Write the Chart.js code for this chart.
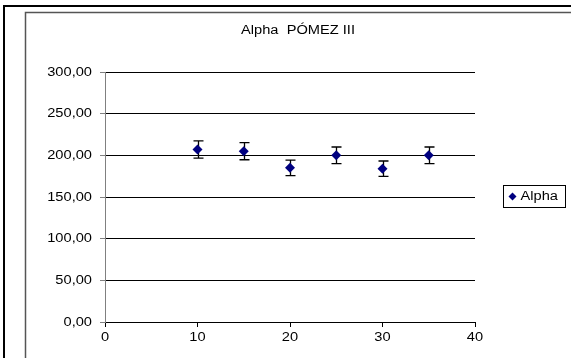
<!DOCTYPE html>
<html>
<head>
<meta charset="utf-8">
<script src="https://cdn.jsdelivr.net/npm/chart.js@4/dist/chart.umd.min.js"></script>
<style>
  html, body { margin: 0; padding: 0; background: #fff; }
  #wrap { width: 571px; height: 358px; }
</style>
</head>
<body>
<div id="wrap"><canvas id="c" width="571" height="358"></canvas></div>
<script>
// Alpha measurements with their error margins
const xValues = [10, 15, 20, 25, 30, 35];
const alphaValues = [207, 205, 185, 200, 184, 200];
const alphaErrors = [10.4, 10.3, 9.3, 10, 9.2, 10];
const yTicks = [0, 50, 100, 150, 200, 250, 300];
const xTicks = [0, 10, 20, 30, 40];
const chartTitle = 'Alpha  PÓMEZ III';
const seriesName = 'Alpha';

const FONT = '12px "Liberation Sans", Arial, sans-serif';
const STRETCH = 1.22;   // the sheet's text is drawn slightly widened
const fmt = v => v.toFixed(2).replace('.', ',');

// Draw widened text; align is 'left', 'center' or 'right'
function wideText(ctx, text, x, y, align) {
  ctx.save();
  ctx.font = FONT;
  ctx.textAlign = 'left';
  ctx.textBaseline = 'middle';
  ctx.fillStyle = '#000';
  const w = ctx.measureText(text).width * STRETCH;
  let left = x;
  if (align === 'center') left = x - w / 2;
  else if (align === 'right') left = x - w;
  ctx.translate(left, y);
  ctx.scale(STRETCH, 1);
  ctx.fillText(text, 0, 0);
  ctx.restore();
}

// Sheet frame, inner chart border, title, axis labels and legend
const framePlugin = {
  id: 'frame',
  beforeDraw(chart) {
    const ctx = chart.ctx;
    ctx.save();
    ctx.fillStyle = '#fff';
    ctx.fillRect(0, 0, chart.width, chart.height);
    ctx.strokeStyle = '#000';
    ctx.lineWidth = 2;
    ctx.beginPath();
    ctx.moveTo(3, 6); ctx.lineTo(chart.width, 6);
    ctx.moveTo(4, 5); ctx.lineTo(4, chart.height);
    ctx.stroke();
    ctx.strokeStyle = '#555';
    ctx.lineWidth = 1.5;
    ctx.beginPath();
    ctx.moveTo(25.5, chart.height); ctx.lineTo(25.5, 12.5); ctx.lineTo(chart.width, 12.5);
    ctx.stroke();
    ctx.restore();
  },
  afterDraw(chart) {
    const ctx = chart.ctx;
    const xs = chart.scales.x, ys = chart.scales.y;

    wideText(ctx, chartTitle, 298, 31, 'center');

    yTicks.forEach(v => wideText(ctx, fmt(v), xs.left - 13, ys.getPixelForValue(v) + 0.5, 'right'));
    xTicks.forEach(v => wideText(ctx, String(v), xs.getPixelForValue(v), ys.bottom + 16, 'center'));

    // legend box
    ctx.save();
    const lx = 503.5, ly = 185.5, lw = 62, lh = 22;
    ctx.strokeStyle = '#000';
    ctx.lineWidth = 1;
    ctx.strokeRect(lx, ly, lw, lh);
    const cx = lx + 9, cy = ly + lh / 2;
    ctx.fillStyle = '#000080';
    ctx.beginPath();
    ctx.moveTo(cx, cy - 4); ctx.lineTo(cx + 4, cy); ctx.lineTo(cx, cy + 4); ctx.lineTo(cx - 4, cy);
    ctx.closePath();
    ctx.fill();
    ctx.restore();
    wideText(ctx, seriesName, lx + 17, cy + 0.5, 'left');
  }
};

// Vertical error bars with caps, positioned by the chart scales
const errorBarPlugin = {
  id: 'errorBars',
  beforeDatasetsDraw(chart) {
    const xs = chart.scales.x, ys = chart.scales.y;
    const ctx = chart.ctx;
    ctx.save();
    ctx.strokeStyle = '#000';
    ctx.lineWidth = 1.3;
    xValues.forEach((xv, i) => {
      const px = Math.round(xs.getPixelForValue(xv)) + 0.5;
      const top = ys.getPixelForValue(alphaValues[i] + alphaErrors[i]);
      const bot = ys.getPixelForValue(alphaValues[i] - alphaErrors[i]);
      ctx.beginPath();
      ctx.moveTo(px, top); ctx.lineTo(px, bot);
      ctx.moveTo(px - 5, top); ctx.lineTo(px + 5, top);
      ctx.moveTo(px - 5, bot); ctx.lineTo(px + 5, bot);
      ctx.stroke();
    });
    ctx.restore();
  }
};

new Chart(document.getElementById('c'), {
  type: 'scatter',
  data: {
    datasets: [{
      label: seriesName,
      data: xValues.map((x, i) => ({ x, y: alphaValues[i] })),
      pointStyle: 'rectRot',
      pointRadius: 5,
      pointHoverRadius: 5,
      backgroundColor: '#000080',
      borderColor: '#000080',
      borderWidth: 0
    }]
  },
  options: {
    responsive: false,
    animation: false,
    events: [],
    layout: { padding: { left: 0, top: 72, right: 96, bottom: 0 } },
    plugins: { legend: { display: false }, title: { display: false }, tooltip: { enabled: false } },
    scales: {
      x: {
        type: 'linear',
        min: xTicks[0], max: xTicks[xTicks.length - 1],
        afterBuildTicks: s => { s.ticks = xTicks.map(v => ({ value: v })); },
        afterFit: s => { s.height = 36; },
        ticks: { display: false },
        grid: { drawOnChartArea: false, drawTicks: true, tickLength: 5, tickColor: '#000', lineWidth: 1 },
        border: { color: '#000', width: 1 }
      },
      y: {
        type: 'linear',
        min: yTicks[0], max: yTicks[yTicks.length - 1],
        afterBuildTicks: s => { s.ticks = yTicks.map(v => ({ value: v })); },
        afterFit: s => { s.width = 105; },
        ticks: { display: false },
        grid: { color: '#000', drawTicks: true, tickColor: '#808080', tickLength: 5, lineWidth: 1 },
        border: { color: '#808080', width: 1 }
      }
    }
  },
  plugins: [framePlugin, errorBarPlugin]
});
</script>
</body>
</html>
